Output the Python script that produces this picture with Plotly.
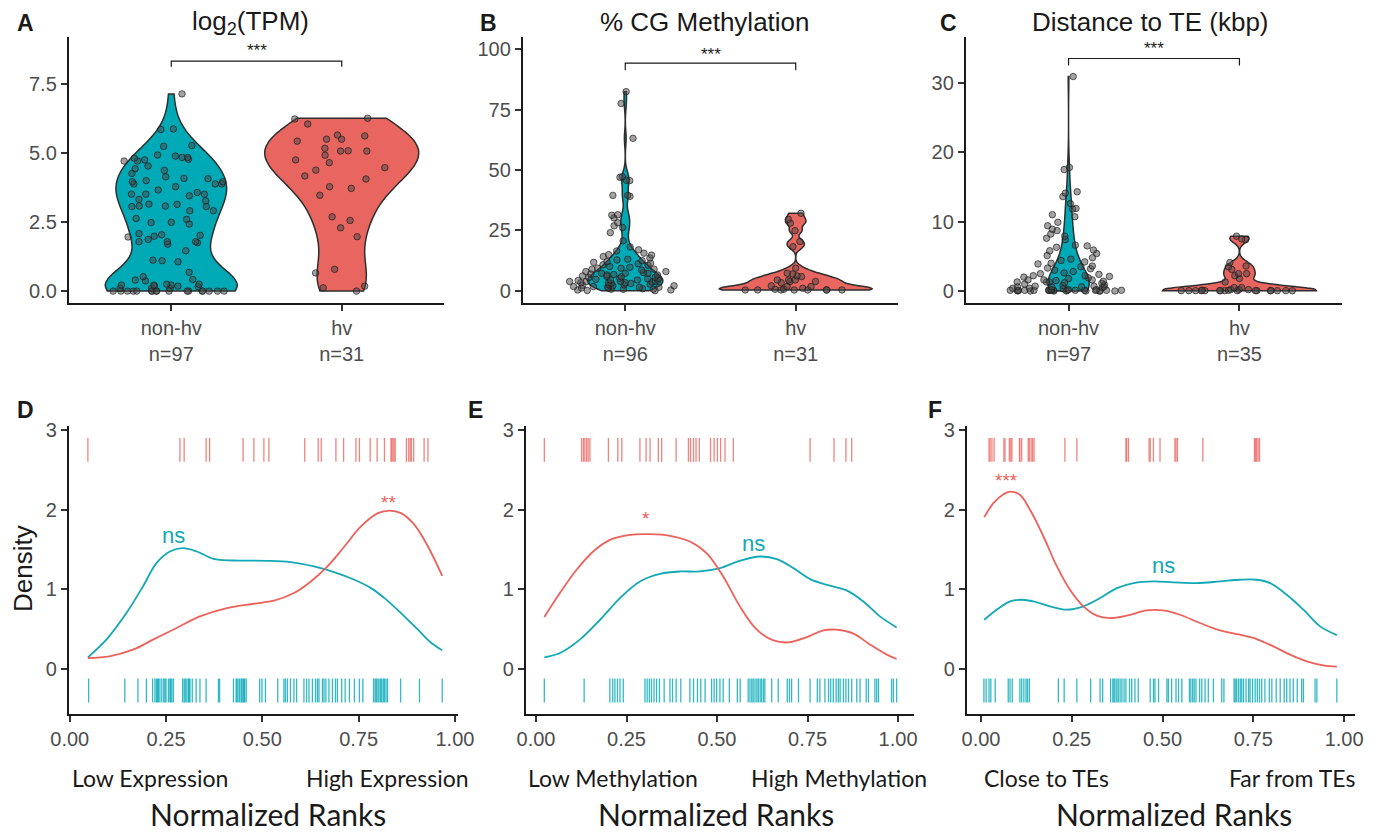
import numpy as np
import plotly.graph_objects as go

W, H = 1381, 832
TEAL = "#00A9B6"
RED = "#E8665F"
TEAL_LINE = "#13A8B5"
RED_LINE = "#EC625B"
AXIS_COL = "#1a1a1a"
TICK_COL = "#4d4d4d"

groups = ["non-hv", "hv"]

# ---------------- Panel A: log2(TPM) ----------------
tpm_nonhv = [7.14, 5.87, 5.85, 5.27, 5.24, 4.93, 4.89, 4.84, 4.84, 4.81, 4.77, 4.75, 4.71, 4.71,
             4.53, 4.43, 4.37, 4.26, 4.14, 4.08, 4.07, 4.00, 3.96, 3.96, 3.88, 3.88, 3.88, 3.78,
             3.66, 3.57, 3.51, 3.51, 3.51, 3.45, 3.32, 3.27, 3.15, 3.14, 3.08, 3.08, 3.06, 3.06,
             2.91, 2.91, 2.63, 2.60, 2.49, 2.48, 2.43, 2.08, 2.04, 2.02, 1.99, 1.96, 1.87, 1.79,
             1.79, 1.79, 1.75, 1.70, 1.46, 1.12, 1.10, 1.06, 0.68, 0.52, 0.42, 0.40, 0.37, 0.25,
             0.25, 0.22, 0.22, 0.22, 0.18, 0.18, 0.16, 0.10, 0.10, 0.10,
             0.0, 0.0, 0.0, 0.0, 0.0, 0.0, 0.0, 0.0, 0.0, 0.0, 0.0, 0.0, 0.0, 0.0, 0.0, 0.0, 0.0]
tpm_hv = [6.23, 6.26, 6.05, 5.65, 5.62, 5.43, 5.50, 5.50, 5.07, 5.08, 5.07, 5.17, 4.92, 4.75,
          4.65, 4.47, 4.38, 4.17, 4.06, 3.72, 3.78, 3.47, 2.56, 2.69, 2.29, 1.97, 0.66, 0.79,
          0.12, 0.18, 0.00]

# ---------------- Panel B: % CG methylation ----------------
meth_nonhv = [82.4, 77.5, 63.1, 47.0, 47.2, 45.8, 45.6, 39.5, 39.5, 39.1, 31.5, 31.3, 30.2, 28.2,
              26.9, 26.2, 24.1, 20.7, 18.2,
              15.6, 15.0, 14.2, 13.1, 12.8, 12.1, 11.8, 11.2, 10.6, 10.1, 9.8, 9.4, 9.4, 9.0, 9.0,
              8.6, 8.0, 8.0, 7.6, 7.3, 7.3, 7.3, 7.0, 6.8, 6.6, 6.6, 6.2, 5.9, 5.6, 5.5, 5.2, 5.2,
              4.8, 4.5, 4.5, 4.5, 4.3, 4.0, 3.9, 3.9, 3.9, 3.7, 3.4, 3.4, 3.4, 3.1, 3.1, 2.8, 2.5,
              2.5, 2.1, 2.1, 1.8, 1.8, 1.5, 1.5, 1.5, 1.2, 1.1, 0.7, 0.7, 0.7, 0.4, 0.4, 0.2, 0.1,
              16.5, 17.0, 10.8, 12.5, 14.8, 6.0, 5.0, 2.3, 0.9, 13.6, 11.5]
meth_hv = [32.1, 29.6, 24.9, 28.0, 20.4, 18.3, 9.4, 7.3, 7.0, 6.2, 5.9, 4.5, 4.5, 4.5, 3.9, 3.9,
           3.4, 1.8, 0.7, 0.4, 0.4, 0.4, 0.4, 0.4, 0.4, 0.7, 0.4, 0.4, 1.1, 2.1, 1.8]

# ---------------- Panel C: distance to TE (kbp) ----------------
dist_nonhv = [30.9, 17.8, 17.5, 14.3, 14.1, 13.6, 12.6, 11.9, 11.8, 11.0, 10.7, 9.9, 8.7, 8.9,
              8.2, 7.9, 7.6, 6.6, 7.4, 6.5, 5.9, 6.3, 5.8, 5.4, 4.6, 4.4, 3.5, 4.0, 3.9, 3.6,
              3.3, 2.6, 2.5, 2.2,
              2.2, 1.8, 1.6, 1.6, 1.6, 2.0, 1.3, 2.1, 1.3, 0.9, 0.2, 0.1, 0.1, 0.1, 0.1, 0.1,
              0.6, 0.1, 0.1, 0.1, 0.2, 0.1, 0.1, 0.1, 0.1, 0.6, 0.1, 0.1, 0.7, 0.7, 0.6, 1.1,
              1.0, 1.3, 0.1, 1.2, 0.1, 0.6, 0.4,
              0.0, 0.0, 0.0, 0.0, 0.0, 0.0, 0.0, 0.0, 0.3, 0.5, 0.8, 1.5, 1.9, 2.4, 2.8, 3.0,
              3.2, 4.2, 4.8, 5.1, 9.4, 1.4, 0.2, 0.4]
dist_hv = [7.9, 7.5, 7.4, 4.1, 3.6, 3.1, 2.5, 2.2, 1.8, 1.3, 2.5, 3.5,
           0.05, 0.05, 0.05, 0.05, 0.05, 0.05, 0.05, 0.05, 0.05, 0.05, 0.05, 0.05, 0.05, 0.05,
           0.2, 0.2, 0.5, 0.5, 0.2, 0.1, 0.1, 0.05, 0.05]

# kernel bandwidths of the violins (None = R's bw.nrd0 rule of thumb)
violin_bw = [(None, None), (3.0, 1.4), (2.2, 0.6)]

# ---------------- Panel D: expression ranks ----------------
d_curve_x_teal = [0.047, 0.095, 0.147, 0.19, 0.225, 0.26, 0.293, 0.33, 0.373, 0.425, 0.512, 0.573,
                  0.634, 0.686, 0.739, 0.782, 0.817, 0.86, 0.904, 0.939, 0.967]
d_curve_y_teal = [0.146, 0.368, 0.702, 1.036, 1.329, 1.475, 1.517, 1.475, 1.383, 1.362, 1.358, 1.341,
                  1.287, 1.216, 1.12, 1.015, 0.89, 0.702, 0.493, 0.326, 0.234]
d_curve_x_red = [0.047, 0.103, 0.164, 0.216, 0.277, 0.338, 0.408, 0.478, 0.53, 0.582, 0.626, 0.669,
                 0.713, 0.756, 0.8, 0.83, 0.86, 0.895, 0.93, 0.967]
d_curve_y_red = [0.138, 0.159, 0.242, 0.368, 0.514, 0.66, 0.765, 0.819, 0.857, 0.953, 1.099, 1.287,
                 1.538, 1.789, 1.956, 1.989, 1.956, 1.809, 1.538, 1.17]
d_rug_red = [0.047, 0.286, 0.297, 0.354, 0.363, 0.450, 0.478, 0.504, 0.517, 0.610, 0.645, 0.653,
             0.691, 0.711, 0.743, 0.752, 0.780, 0.798, 0.817, 0.834, 0.836, 0.839, 0.842, 0.845,
             0.874, 0.880, 0.884, 0.887, 0.893, 0.920, 0.930]
d_rug_teal = [0.049, 0.143, 0.177, 0.199, 0.215, 0.221, 0.225, 0.228, 0.230, 0.234, 0.239, 0.244,
              0.247, 0.250, 0.256, 0.260, 0.262, 0.265, 0.269, 0.293, 0.297, 0.300, 0.304, 0.308,
              0.310, 0.312, 0.318, 0.328, 0.338, 0.354, 0.386, 0.389, 0.425, 0.432, 0.434, 0.437,
              0.441, 0.445, 0.447, 0.450, 0.452, 0.454, 0.458, 0.493, 0.499, 0.508, 0.540, 0.556,
              0.560, 0.565, 0.573, 0.582, 0.589, 0.608, 0.615, 0.621, 0.630, 0.638, 0.643, 0.647,
              0.656, 0.660, 0.665, 0.673, 0.682, 0.690, 0.695, 0.706, 0.715, 0.726, 0.739, 0.752,
              0.761, 0.789, 0.793, 0.796, 0.800, 0.803, 0.807, 0.810, 0.814, 0.817, 0.821, 0.825,
              0.859, 0.908, 0.967]

# ---------------- Panel E: methylation ranks ----------------
e_curve_x_red = [0.023, 0.066, 0.112, 0.158, 0.204, 0.26, 0.315, 0.37, 0.425, 0.471, 0.517, 0.563,
                 0.61, 0.656, 0.697, 0.748, 0.794, 0.83, 0.877, 0.923, 0.969, 0.996]
e_curve_y_red = [0.652, 0.953, 1.245, 1.475, 1.621, 1.684, 1.692, 1.672, 1.6, 1.454, 1.162, 0.786,
                 0.493, 0.359, 0.334, 0.401, 0.485, 0.493, 0.443, 0.305, 0.18, 0.125]
e_curve_x_teal = [0.023, 0.066, 0.121, 0.177, 0.232, 0.287, 0.343, 0.398, 0.453, 0.508, 0.563, 0.619,
                  0.665, 0.711, 0.757, 0.812, 0.858, 0.904, 0.95, 0.996]
e_curve_y_teal = [0.146, 0.2, 0.368, 0.618, 0.89, 1.099, 1.195, 1.224, 1.224, 1.266, 1.358, 1.412,
                  1.379, 1.266, 1.128, 1.045, 0.986, 0.848, 0.66, 0.522]
e_rug_red = [0.023, 0.126, 0.131, 0.135, 0.140, 0.144, 0.149, 0.200, 0.226, 0.237, 0.287, 0.304,
             0.315, 0.338, 0.347, 0.387, 0.421, 0.427, 0.435, 0.442, 0.451, 0.482, 0.492, 0.501,
             0.510, 0.522, 0.545, 0.757, 0.823, 0.856, 0.872]
e_rug_teal = [0.023, 0.133, 0.204, 0.212, 0.218, 0.225, 0.232, 0.241, 0.301, 0.307, 0.313, 0.319,
              0.326, 0.333, 0.341, 0.354, 0.370, 0.377, 0.387, 0.400, 0.425, 0.435, 0.446, 0.455,
              0.467, 0.485, 0.492, 0.499, 0.508, 0.517, 0.534, 0.556, 0.564, 0.586, 0.591, 0.596,
              0.600, 0.605, 0.610, 0.614, 0.619, 0.623, 0.628, 0.632, 0.651, 0.669, 0.694, 0.700,
              0.706, 0.725, 0.757, 0.777, 0.784, 0.798, 0.808, 0.814, 0.821, 0.829, 0.835, 0.840,
              0.849, 0.856, 0.863, 0.872, 0.886, 0.895, 0.912, 0.918, 0.936, 0.941, 0.946, 0.982,
              0.987, 0.996]

# ---------------- Panel F: distance ranks ----------------
f_curve_x_red = [0.009, 0.034, 0.062, 0.08, 0.107, 0.135, 0.172, 0.209, 0.245, 0.282, 0.319, 0.355,
                 0.401, 0.456, 0.502, 0.548, 0.603, 0.658, 0.713, 0.759, 0.805, 0.851, 0.897, 0.943,
                 0.98]
f_curve_y_red = [1.906, 2.081, 2.194, 2.227, 2.186, 1.998, 1.663, 1.287, 0.995, 0.786, 0.669, 0.639,
                 0.669, 0.735, 0.735, 0.681, 0.577, 0.485, 0.43, 0.376, 0.284, 0.18, 0.096, 0.046,
                 0.029]
f_curve_x_teal = [0.009, 0.043, 0.08, 0.112, 0.144, 0.19, 0.236, 0.282, 0.328, 0.374, 0.42, 0.475,
                  0.53, 0.594, 0.658, 0.713, 0.759, 0.796, 0.842, 0.888, 0.934, 0.98]
f_curve_y_teal = [0.618, 0.744, 0.848, 0.869, 0.848, 0.786, 0.744, 0.786, 0.89, 1.015, 1.078, 1.099,
                  1.087, 1.078, 1.099, 1.12, 1.12, 1.078, 0.932, 0.744, 0.535, 0.426]
f_rug_red = [0.022, 0.025, 0.030, 0.036, 0.063, 0.066, 0.078, 0.082, 0.085, 0.106, 0.107, 0.112,
             0.130, 0.133, 0.138, 0.142, 0.146, 0.231, 0.264, 0.399, 0.401, 0.406, 0.463, 0.466,
             0.475, 0.493, 0.534, 0.537, 0.541, 0.611, 0.753, 0.756, 0.759, 0.763, 0.767]
f_rug_teal = [0.008, 0.014, 0.022, 0.027, 0.039, 0.075, 0.080, 0.086, 0.107, 0.112, 0.118, 0.124,
              0.128, 0.133, 0.213, 0.229, 0.264, 0.302, 0.328, 0.335, 0.357, 0.363, 0.366, 0.369,
              0.374, 0.378, 0.383, 0.388, 0.394, 0.399, 0.409, 0.415, 0.424, 0.433, 0.466, 0.475,
              0.479, 0.489, 0.512, 0.516, 0.525, 0.537, 0.544, 0.553, 0.574, 0.578, 0.583, 0.587,
              0.592, 0.602, 0.608, 0.617, 0.626, 0.640, 0.663, 0.669, 0.697, 0.700, 0.704, 0.709,
              0.714, 0.718, 0.723, 0.730, 0.737, 0.741, 0.748, 0.755, 0.761, 0.767, 0.773, 0.782,
              0.794, 0.801, 0.813, 0.824, 0.835, 0.842, 0.851, 0.860, 0.871, 0.883, 0.888, 0.920,
              0.925, 0.980]

# labels
top_titles = ["log<sub>2</sub>(TPM)", "% CG Methylation", "Distance to TE (kbp)"]
top_counts = [["n=97", "n=31"], ["n=96", "n=31"], ["n=97", "n=35"]]
bottom_low = ["Low Expression", "Low Methylation", "Close to TEs"]
bottom_high = ["High Expression", "High Methylation", "Far from TEs"]
rank_ticks = [0, 0.25, 0.5, 0.75, 1.0]
rank_ticktext = ["0.00", "0.25", "0.50", "0.75", "1.00"]


def nrd0(v):
    v = np.asarray(v, dtype=float)
    sd = v.std(ddof=1)
    q75, q25 = np.percentile(v, [75, 25])
    lo = min(sd, (q75 - q25) / 1.34)
    if lo <= 0:
        lo = sd if sd > 0 else 1.0
    return 0.9 * lo * len(v) ** -0.2


def kde_max(v, bw):
    """peak of the gaussian kernel density, used to scale violins by area (ggplot default)"""
    v = np.asarray(v, dtype=float)
    grid = np.linspace(v.min(), v.max(), 600)
    dens = np.exp(-0.5 * ((grid[:, None] - v[None, :]) / bw) ** 2).sum(axis=1)
    dens /= len(v) * bw * np.sqrt(2 * np.pi)
    return dens.max()


def fx(p):
    return p / W


def fy(p):
    return 1 - p / H


AX_COMMON = dict(showline=True, linewidth=2.4, linecolor=AXIS_COL, ticks="outside",
                 ticklen=6, tickwidth=1.6, tickcolor="#333", showgrid=False,
                 zeroline=False, automargin=False,
                 tickfont=dict(size=20, color=TICK_COL))

fig = go.Figure()

top_data = [(tpm_nonhv, tpm_hv), (meth_nonhv, meth_hv), (dist_nonhv, dist_hv)]
top_xdom = [(69, 444), (523, 898), (966, 1342)]
top_yrange = [[-0.43, 9.2], [-5, 105], [-1.73, 36.6]]
top_ytick = [([0, 2.5, 5, 7.5], ["0.0", "2.5", "5.0", "7.5"]),
             ([0, 25, 50, 75, 100], ["0", "25", "50", "75", "100"]),
             ([0, 10, 20, 30], ["0", "10", "20", "30"])]
bracket_y = [(8.12, 8.33, 8.72), (91.3, 94.2, 97.9), (32.5, 33.5, 34.9)]
letters_top = [("A", 25), ("B", 489), ("C", 948)]
title_x = [250, 705, 1150]

annotations = []

for i in range(3):
    xa = "x" if i == 0 else f"x{i+1}"
    ya = "y" if i == 0 else f"y{i+1}"
    nh, hv = top_data[i]
    specs = []
    for vals, g, col, bw in [(nh, "non-hv", TEAL, violin_bw[i][0]),
                             (hv, "hv", RED, violin_bw[i][1])]:
        bw = bw if bw else nrd0(vals)
        specs.append((vals, g, col, bw, kde_max(vals, bw)))
    peak = max(s[4] for s in specs)
    for vals, g, col, bw, km in specs:
        fig.add_trace(go.Violin(
            x=[g] * len(vals), y=vals, xaxis=xa, yaxis=ya,
            fillcolor=col, line=dict(color="#2e2e2e", width=1.5),
            points=False, spanmode="hard", bandwidth=bw,
            scalegroup=f"{i}{g}", scalemode="width", width=0.9 * km / peak,
            box_visible=False, meanline_visible=False, showlegend=False,
            hoverinfo="skip"))
    for vals, g in [(nh, "non-hv"), (hv, "hv")]:
        fig.add_trace(go.Box(
            x=[g] * len(vals), y=vals, xaxis=xa, yaxis=ya,
            boxpoints="all", jitter=1, pointpos=0, width=0.7,
            fillcolor="rgba(0,0,0,0)", line=dict(color="rgba(0,0,0,0)", width=0),
            whiskerwidth=0,
            marker=dict(size=6.5, color="rgba(70,70,70,0.5)",
                        line=dict(color="rgba(25,25,25,0.65)", width=1)),
            showlegend=False, hoverinfo="skip"))
    lo, hi, star = bracket_y[i]
    fig.add_trace(go.Scatter(
        x=["non-hv", "non-hv", "hv", "hv"], y=[lo, hi, hi, lo], xaxis=xa, yaxis=ya,
        mode="lines", line=dict(color="#1a1a1a", width=1.2), showlegend=False,
        hoverinfo="skip"))
    annotations.append(dict(x=0.5, y=star, xref=xa, yref=ya, text="***", showarrow=False,
                            font=dict(size=17, color="#1a1a1a"), yanchor="middle"))
    x0, x1 = top_xdom[i]
    tv, tt = top_ytick[i]
    fig.update_layout({
        ("xaxis" if i == 0 else f"xaxis{i+1}"): dict(
            domain=[fx(x0), fx(x1)], anchor=ya, type="category",
            categoryorder="array", categoryarray=groups, range=[-0.6, 1.6],
            tickvals=groups,
            ticktext=[f"{groups[k]}<br>{top_counts[i][k]}" for k in range(2)],
            **AX_COMMON),
        ("yaxis" if i == 0 else f"yaxis{i+1}"): dict(
            domain=[fy(303), fy(37)], anchor=xa, range=top_yrange[i],
            tickvals=tv, ticktext=tt, **AX_COMMON),
    })
    annotations.append(dict(x=fx(title_x[i]), y=fy(22), xref="paper", yref="paper",
                            text=top_titles[i], showarrow=False,
                            font=dict(size=26, color="#1a1a1a"),
                            xanchor="center", yanchor="middle"))
    L, lx = letters_top[i]
    annotations.append(dict(x=fx(lx), y=fy(23), xref="paper", yref="paper",
                            text=f"<b>{L}</b>", showarrow=False,
                            font=dict(size=23, color="#1a1a1a"),
                            xanchor="center", yanchor="middle"))

# bottom row
bot = [
    (d_curve_x_teal, d_curve_y_teal, d_curve_x_red, d_curve_y_red, d_rug_red, d_rug_teal),
    (e_curve_x_teal, e_curve_y_teal, e_curve_x_red, e_curve_y_red, e_rug_red, e_rug_teal),
    (f_curve_x_teal, f_curve_y_teal, f_curve_x_red, f_curve_y_red, f_rug_red, f_rug_teal),
]
bot_xdom = [(69, 458), (526, 914), (967, 1355)]
bot_xrange = [[-0.002, 1.008], [-0.0276, 1.044], [-0.0386, 1.030]]
sig = [  # (teal text, x, y), (red text, x, y)
    (("ns", 0.27, 1.67), ("**", 0.827, 2.09)),
    (("ns", 0.602, 1.571), ("*", 0.303, 1.885)),
    (("ns", 0.502, 1.295), ("***", 0.071, 2.36)),
]
letters_bot = [("D", 25), ("E", 475), ("F", 935)]
low_pos = [70, 526, 982]
high_pos = [471, 929, 1357]
nr_center = [268, 716, 1174]

RUG_TOP = (2.6, 2.9)
RUG_BOT = (-0.42, -0.12)


def rug_xy(vals, y0, y1):
    xs, ys = [], []
    for v in vals:
        xs += [v, v, None]
        ys += [y0, y1, None]
    return xs, ys


for j in range(3):
    k = j + 4
    xa, ya = f"x{k}", f"y{k}"
    cxt, cyt, cxr, cyr, rr, rt = bot[j]
    rx, ry = rug_xy(rr, *RUG_TOP)
    fig.add_trace(go.Scatter(x=rx, y=ry, xaxis=xa, yaxis=ya, mode="lines",
                             line=dict(color="rgba(236,110,104,0.85)", width=1.3),
                             showlegend=False, hoverinfo="skip"))
    rx, ry = rug_xy(rt, *RUG_BOT)
    fig.add_trace(go.Scatter(x=rx, y=ry, xaxis=xa, yaxis=ya, mode="lines",
                             line=dict(color="rgba(0,168,182,0.8)", width=1.3),
                             showlegend=False, hoverinfo="skip"))
    fig.add_trace(go.Scatter(x=cxt, y=cyt, xaxis=xa, yaxis=ya, mode="lines",
                             line=dict(color=TEAL_LINE, width=1.8, shape="spline", smoothing=1.0),
                             showlegend=False, hoverinfo="skip"))
    fig.add_trace(go.Scatter(x=cxr, y=cyr, xaxis=xa, yaxis=ya, mode="lines",
                             line=dict(color=RED_LINE, width=1.8, shape="spline", smoothing=1.0),
                             showlegend=False, hoverinfo="skip"))
    (tt, tx, ty), (rt_, rx_, ry_) = sig[j]
    annotations.append(dict(x=tx, y=ty, xref=xa, yref=ya, text=tt, showarrow=False,
                            font=dict(size=22, color=TEAL_LINE)))
    annotations.append(dict(x=rx_, y=ry_, xref=xa, yref=ya, text=rt_, showarrow=False,
                            font=dict(size=19, color=RED_LINE)))
    x0, x1 = bot_xdom[j]
    fig.update_layout({
        f"xaxis{k}": dict(
            domain=[fx(x0), fx(x1)], anchor=ya, range=bot_xrange[j],
            tickvals=rank_ticks, ticktext=rank_ticktext, **AX_COMMON),
        f"yaxis{k}": dict(
            domain=[fy(714), fy(426)], anchor=xa, range=[-0.565, 3.05],
            tickvals=[0, 1, 2, 3], ticktext=["0", "1", "2", "3"], **AX_COMMON),
    })
    annotations.append(dict(x=fx(low_pos[j]), y=fy(778), xref="paper", yref="paper",
                            text=bottom_low[j], showarrow=False,
                            font=dict(size=23, color="#1a1a1a", family="Lato"),
                            xanchor="left", yanchor="middle"))
    annotations.append(dict(x=fx(high_pos[j]), y=fy(778), xref="paper", yref="paper",
                            text=bottom_high[j], showarrow=False,
                            font=dict(size=23, color="#1a1a1a", family="Lato"),
                            xanchor="right", yanchor="middle"))
    annotations.append(dict(x=fx(nr_center[j]), y=fy(814), xref="paper", yref="paper",
                            text="Normalized Ranks", showarrow=False,
                            font=dict(size=30, color="#1a1a1a", family="Lato"),
                            xanchor="center", yanchor="middle"))
    L, lx = letters_bot[j]
    annotations.append(dict(x=fx(lx), y=fy(410), xref="paper", yref="paper",
                            text=f"<b>{L}</b>", showarrow=False,
                            font=dict(size=23, color="#1a1a1a"),
                            xanchor="center", yanchor="middle"))

annotations.append(dict(x=fx(23), y=fy(569), xref="paper", yref="paper", text="Density",
                        textangle=-90, showarrow=False,
                        font=dict(size=26, color="#1a1a1a"),
                        xanchor="center", yanchor="middle"))

fig.update_layout(
    width=W, height=H, margin=dict(l=0, r=0, t=0, b=0, autoexpand=False),
    paper_bgcolor="white", plot_bgcolor="white",
    font=dict(family="Liberation Sans, Arial, sans-serif", color="#1a1a1a"),
    violinmode="overlay", boxmode="overlay",
    annotations=annotations, showlegend=False,
)

fig.write_html("out.html", config={"displayModeBar": False},
               post_script="document.body.style.margin='0px';"
                           "document.body.style.overflow='hidden';")
